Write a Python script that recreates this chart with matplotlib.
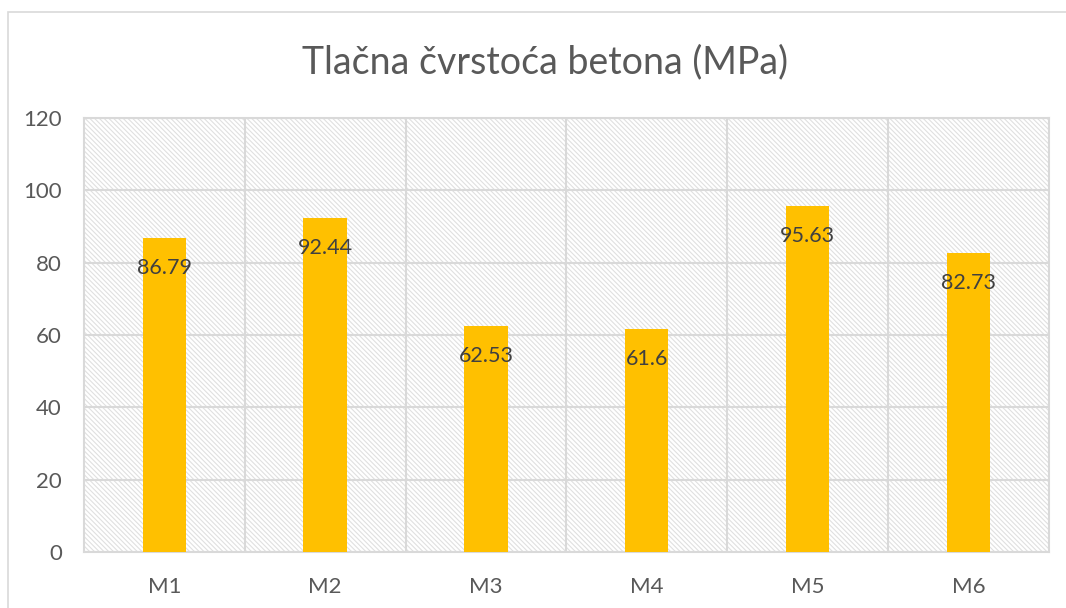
import matplotlib.pyplot as plt
from matplotlib.patches import Rectangle

# data
mixes = ["M1", "M2", "M3", "M4", "M5", "M6"]
strength = [86.79, 92.44, 62.53, 61.6, 95.63, 82.73]
yticks = [0, 20, 40, 60, 80, 100, 120]

plt.rcParams['font.family'] = ['Lato', 'DejaVu Sans']
plt.rcParams['hatch.color'] = '#e0e0e0'
plt.rcParams['hatch.linewidth'] = 0.8

fig = plt.figure(figsize=(10.66, 6.08), dpi=100)
ax = fig.add_axes([0.0788, 0.092, 0.905, 0.714])

# outer chart frame
fig.patches.append(Rectangle((0.0075, -0.05), 1.1, 1.03, transform=fig.transFigure,
                             fill=False, edgecolor='#d9d9d9', linewidth=1.2))

# hatched plot area
ax.add_patch(Rectangle((0, 0), 1, 1, transform=ax.transAxes, facecolor='white',
                       hatch='\\\\\\\\\\\\\\', edgecolor='#e0e0e0', linewidth=0, zorder=0))

x = list(range(len(mixes)))
bars = ax.bar(x, strength, width=0.27, color='#ffc000', zorder=3)

for xi, v in zip(x, strength):
    ax.text(xi, v - 5.5, f"{v:g}", ha='center', va='top', fontsize=15.5,
            color='#404040', zorder=4)

ax.set_xlim(-0.5, len(mixes) - 0.5)
ax.set_ylim(0, 120)
ax.set_yticks(yticks)
ax.set_xticks(x)
ax.set_xticklabels(mixes)

# grid: horizontal at ticks, vertical between categories
ax.set_xticks([i + 0.5 for i in x[:-1]], minor=True)
ax.grid(axis='y', color='#d9d9d9', linewidth=1.5, zorder=1)
ax.grid(axis='x', which='minor', color='#d9d9d9', linewidth=1.5, zorder=1)
ax.set_axisbelow(True)

for s in ax.spines.values():
    s.set_color('#d9d9d9')
    s.set_linewidth(1.5)

ax.tick_params(axis='both', which='both', length=0, labelsize=16, colors='#595959')
ax.tick_params(axis='y', pad=16)
ax.tick_params(axis='x', pad=18)

fig.text(0.511, 0.898, "Tlačna čvrstoća betona (MPa)", ha='center', va='center',
         fontsize=27, color='#595959')

fig.savefig("out.png", dpi=100)
